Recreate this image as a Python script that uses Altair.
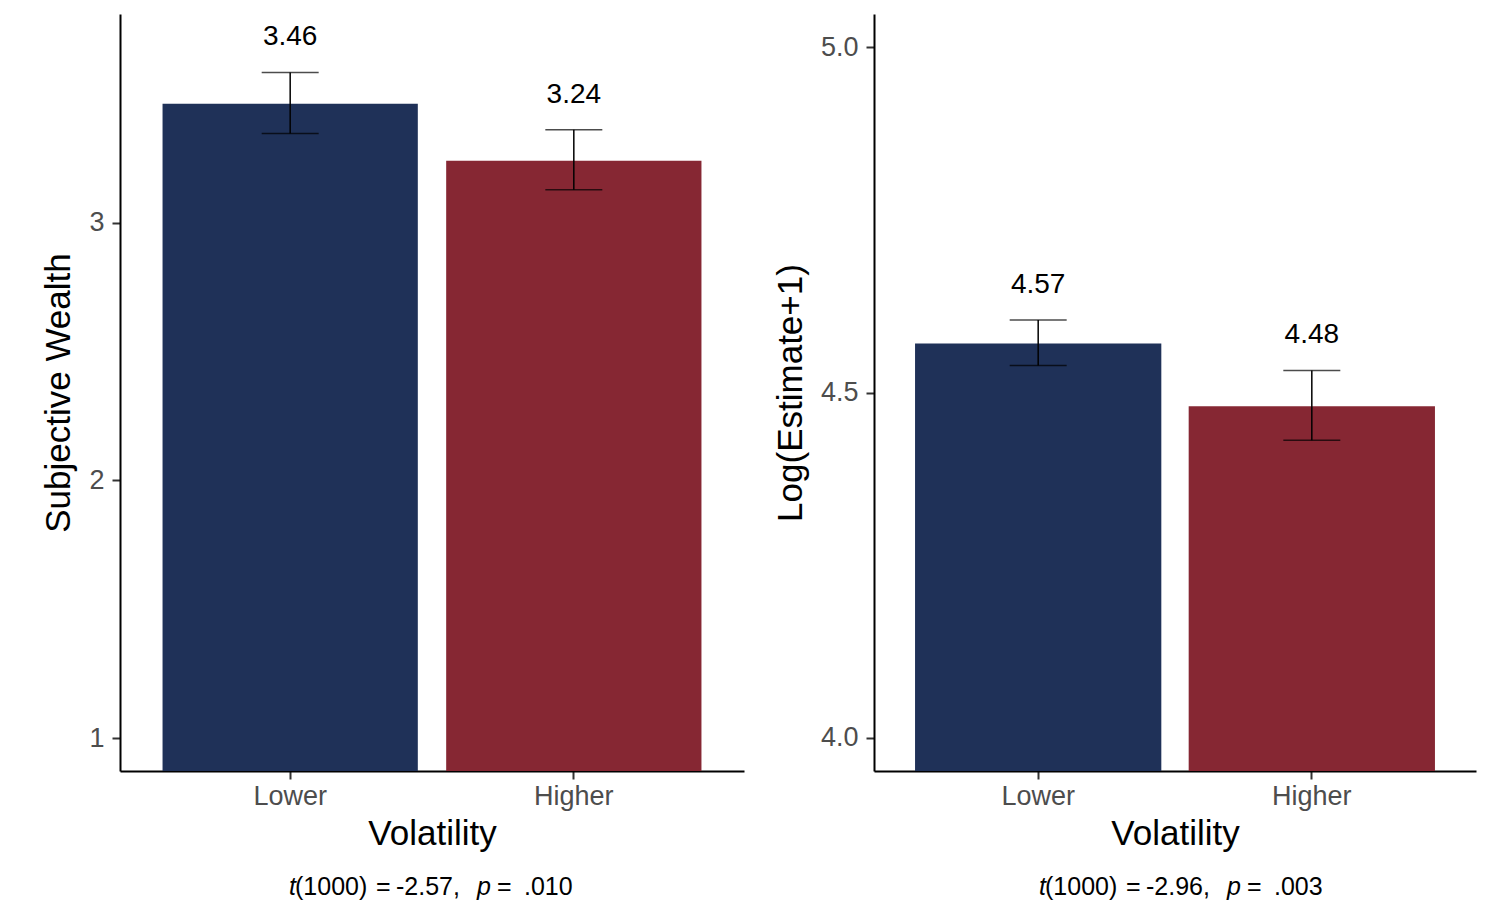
import altair as alt
import pandas as pd

conditions = ["Lower", "Higher"]
colors = ["#1f3158", "#862733"]

wealth_mean = [3.462, 3.240]
wealth_lo = [3.346, 3.128]
wealth_hi = [3.583, 3.361]
wealth_labels = ["3.46", "3.24"]

est_mean = [4.571, 4.480]
est_lo = [4.539, 4.431]
est_hi = [4.605, 4.532]
est_labels = ["4.57", "4.48"]

caption_left = ["t", "(1000)", "=", "-2.57,", "p", "=", ".010"]
caption_right = ["t", "(1000)", "=", "-2.96,", "p", "=", ".003"]
caption_styles = ["italic", "normal", "normal", "normal", "italic", "normal", "normal"]

FONT = "Liberation Sans"
H = 757


def panel(means, lo, hi, labels, ytitle, domain, ticks, fmt, width, caption, cap_x):
    df = pd.DataFrame({
        "cond": conditions,
        "mean": means,
        "lo": lo,
        "hi": hi,
        "label": labels,
        "base": [0.0, 0.0],
    })
    base = alt.Chart(df)
    x = alt.X(
        "cond:N",
        sort=conditions,
        scale=alt.Scale(paddingInner=0.1, paddingOuter=0.15),
        axis=alt.Axis(
            title="Volatility", labelAngle=0, labelFontSize=27, labelColor="#4d4d4d",
            labelFont=FONT, titleFont=FONT, titleFontSize=35, titleFontWeight="normal",
            titleColor="black", tickSize=8, tickWidth=2, tickColor="#333333",
            domainColor="black", domainWidth=2, labelPadding=4, titlePadding=7,
        ),
    )
    yscale = alt.Scale(domain=domain, zero=False, nice=False)
    yaxis = alt.Axis(
        title=ytitle, values=ticks, format=fmt, grid=False, labelFontSize=27,
        labelColor="#4d4d4d", labelFont=FONT, titleFont=FONT, titleFontSize=35,
        titleFontWeight="normal", titleColor="black", tickSize=8, tickWidth=2,
        tickColor="#333333", domainColor="black", domainWidth=2, labelPadding=8,
        titlePadding=12,
    )
    bars = base.mark_bar(clip=True).encode(
        x=x,
        y=alt.Y("mean:Q", scale=yscale, axis=yaxis),
        y2="base:Q",
        color=alt.Color("cond:N", scale=alt.Scale(domain=conditions, range=colors), legend=None),
    )
    rule = base.mark_rule(color="black", strokeWidth=1.5).encode(
        x=alt.X("cond:N", sort=conditions), y="lo:Q", y2="hi:Q"
    )
    cap_lo = base.mark_tick(color="black", size=57, thickness=1.5, orient="horizontal").encode(
        x=alt.X("cond:N", sort=conditions), y="lo:Q"
    )
    cap_hi = base.mark_tick(color="black", size=57, thickness=1.5, orient="horizontal").encode(
        x=alt.X("cond:N", sort=conditions), y="hi:Q"
    )
    text = base.mark_text(dy=-35, fontSize=28, font=FONT, color="black", baseline="middle").encode(
        x=alt.X("cond:N", sort=conditions), y="hi:Q", text="label:N"
    )
    layers = [bars, rule, cap_lo, cap_hi, text]
    for piece, style, px in zip(caption, caption_styles, cap_x):
        layers.append(
            alt.Chart(pd.DataFrame({"t": [piece]}))
            .mark_text(align="left", baseline="middle", fontSize=25, font=FONT,
                       fontStyle=style, color="black")
            .encode(x=alt.value(px), y=alt.value(H + 116), text="t:N")
        )
    return alt.layer(*layers).properties(width=width, height=H)


left = panel(wealth_mean, wealth_lo, wealth_hi, wealth_labels, "Subjective Wealth",
             [0.872, 3.81], [1, 2, 3], "d", 624, caption_left,
             [169, 175, 256, 276, 357, 377, 404])
right = panel(est_mean, est_lo, est_hi, est_labels, "Log(Estimate+1)",
              [3.952, 5.048], [4.0, 4.5, 5.0], ".1f", 602, caption_right,
              [165, 171, 252, 272, 353, 373, 400])

chart = (
    alt.hconcat(left, right, spacing=29)
    .properties(padding={"left": 33, "top": 6, "right": 5, "bottom": 5}, background="white")
    .configure_view(stroke=None)
)

chart.save("out.html", embed_options={"renderer": "svg", "actions": False})
